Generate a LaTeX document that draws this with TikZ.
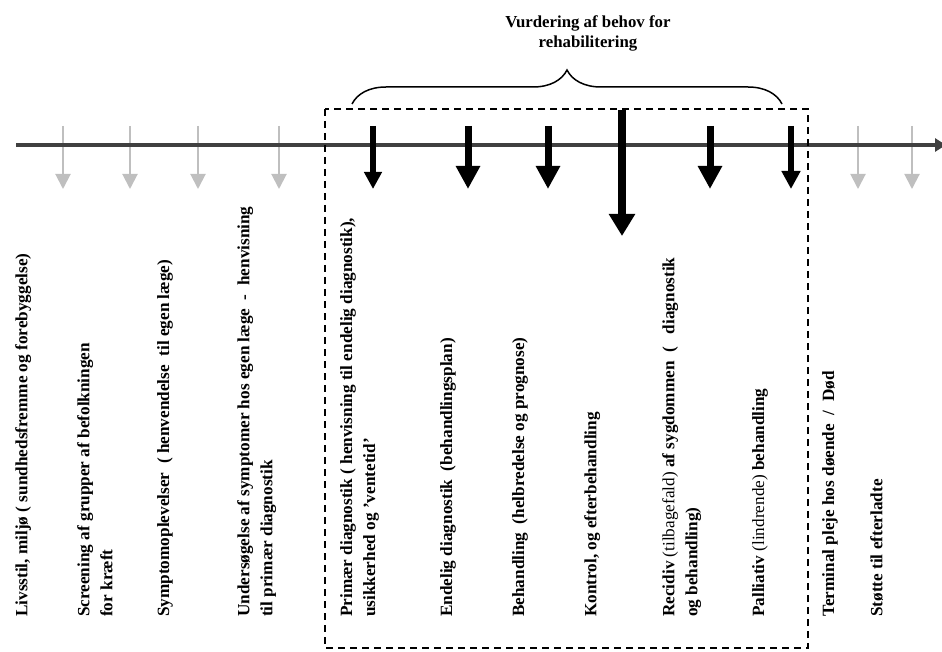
\documentclass[tikz,border=0pt]{standalone}
\usepackage{fontspec}
\setmainfont{Liberation Serif}
\usetikzlibrary{arrows.meta,decorations.pathreplacing}
\begin{document}
\begin{tikzpicture}[x=1pt,y=-1pt,
  phase/.style={rotate=90, anchor=north west, inner sep=0pt, align=left,
    font=\fontsize{17.2}{23}\selectfont\bfseries},
  faint/.style={draw=black!25, line width=2pt, -{Triangle[length=15pt,width=15pt]}},
  bold/.style={draw=black, line width=7pt, -{Triangle[length=23pt,width=23pt]}},
  axis/.style={draw=black!75, line width=3.5pt, -{Triangle[length=11pt,width=13pt]}},
  frame/.style={draw=black, line width=1.5pt, dash pattern=on 7pt off 5pt},
]
\useasboundingbox (0,0) rectangle (942,652);

% light grey markers outside the rehabilitation window
\foreach \x [count=\i] in {63,130,198,279,858,912} {
  \coordinate (gt\i) at (\x,126);
  \coordinate (gb\i) at (\x,189);
  \draw[faint] (gt\i) -- (gb\i);
}

% time axis
\coordinate (axL) at (16,145);
\coordinate (axR) at (946,145);
\draw[axis] (axL) -- (axR);

% black markers inside the window
\coordinate (b1t) at (373,126); \coordinate (b1b) at (373,189);
\coordinate (b2t) at (468,126); \coordinate (b2b) at (468,189);
\coordinate (b3t) at (548,126); \coordinate (b3b) at (548,189);
\coordinate (b4t) at (622,110); \coordinate (b4b) at (622,236);
\coordinate (b5t) at (710,126); \coordinate (b5b) at (710,189);
\coordinate (b6t) at (791,126); \coordinate (b6b) at (791,189);
\draw[bold, line width=6pt, -{Triangle[length=17pt,width=17pt]}] (b1t) -- (b1b);
\draw[bold] (b2t) -- (b2b);
\draw[bold] (b3t) -- (b3b);
\draw[bold, line width=8pt, -{Triangle[length=22pt,width=25pt]}] (b4t) -- (b4b);
\draw[bold] (b5t) -- (b5b);
\draw[bold, line width=6pt, -{Triangle[length=18pt,width=18pt]}] (b6t) -- (b6b);

% dashed rehabilitation window
\coordinate (fTL) at (325,109);
\coordinate (fBR) at (808,648);
\draw[frame] (fTL) rectangle (fBR);

% brace and heading
\coordinate (brL) at (352,104);
\coordinate (brR) at (782,104);
\draw[line width=1.5pt, decorate, decoration={brace, amplitude=34pt}] (brL) -- (brR);
\node[align=center, inner sep=0pt, font=\fontsize{16.8}{20}\selectfont\bfseries]
  (title) at (588,33) {Vurdering af behov for\\rehabilitering};

% phase labels
\node[phase] (p1) at (15,617) {Livsstil, miljø ( sundhedsfremme og forebyggelse)};
\node[phase] (p2) at (77,617) {Screening af grupper af befolkningen\\for kræft};
\node[phase] (p3) at (157,617) {Symptomoplevelser\ \ ( henvendelse\ \ til egen læge)};
\node[phase] (p4) at (237,617) {Undersøgelse af symptomer hos egen læge\ \ -\ \ henvisning\\til primær diagnostik};
\node[phase] (p5) at (340,617) {Primær diagnostik ( henvisning til endelig diagnostik),\\usikkerhed og ’ventetid’};
\node[phase] (p6) at (440,617) {Endelig diagnostik\ \ (behandlingsplan)};
\node[phase] (p7) at (512,617) {Behandling\ \ (helbredelse og prognose)};
\node[phase] (p8) at (584,617) {Kontrol, og efterbehandling};
\node[phase] (p9) at (662,617) {Recidiv {\mdseries(tilbagefald)} af sygdommen\ \ (\ \ \ diagnostik\\og behandling)};
\node[phase] (p10) at (752,617) {Palliativ {\mdseries(lindrende)} behandling};
\node[phase] (p11) at (822,617) {Terminal pleje hos døende\ \ /\ \ Død};
\node[phase] (p12) at (870,617) {Støtte til efterladte};
\end{tikzpicture}
\end{document}
